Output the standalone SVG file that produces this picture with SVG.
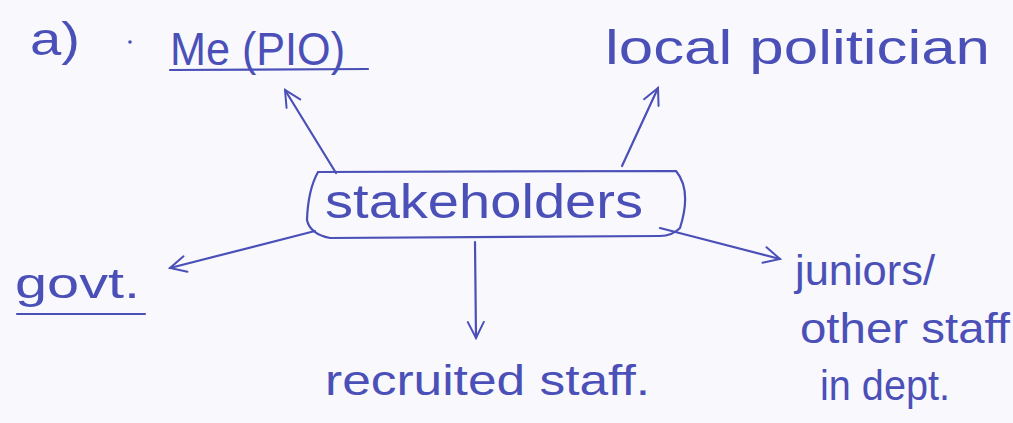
<svg xmlns="http://www.w3.org/2000/svg" width="1013" height="423" viewBox="0 0 1013 423">
<defs>
<marker id="arr" viewBox="0 0 20 20" refX="18" refY="10" markerWidth="20" markerHeight="20" markerUnits="userSpaceOnUse" orient="auto">
<path d="M2,2 L18,10 L2,18" fill="none" stroke="#4a50b8" stroke-width="2" stroke-linecap="round"/>
</marker>
<style>
.t{font-family:"Liberation Sans","DejaVu Sans",sans-serif;fill:#4a50b8;}
.ln{stroke:#4a50b8;stroke-width:2.2;fill:none;stroke-linecap:round;}
</style>
</defs>
<rect width="1013" height="423" fill="#f9f8fc"/>
<g id="label-a">
<text class="t" x="30" y="55" font-size="46" textLength="50" lengthAdjust="spacingAndGlyphs">a)</text>
<circle cx="130" cy="42" r="1.8" fill="#4a50b8"/>
</g>
<g id="node-me">
<text class="t" x="170" y="65" font-size="46" textLength="175" lengthAdjust="spacingAndGlyphs">Me (PIO)</text>
<path class="ln" d="M170,70 L368,69"/>
</g>
<g id="node-politician">
<text class="t" x="605" y="64" font-size="48" textLength="385" lengthAdjust="spacingAndGlyphs">local politician</text>
</g>
<g id="node-stakeholders">
<path class="ln" d="M318,172 L676,171 Q692,190 680,228 Q672,236 660,236 L330,238 Q310,234 307,220 Q308,190 318,172 Z"/>
<text class="t" x="325" y="218" font-size="48" textLength="318" lengthAdjust="spacingAndGlyphs">stakeholders</text>
</g>
<g id="node-govt">
<text class="t" x="15" y="298" font-size="42" textLength="125" lengthAdjust="spacingAndGlyphs">govt.</text>
<path class="ln" d="M17,314 L145,314"/>
</g>
<g id="node-recruited">
<text class="t" x="325" y="395" font-size="42" textLength="325" lengthAdjust="spacingAndGlyphs">recruited staff.</text>
</g>
<g id="node-juniors">
<text class="t" x="795" y="285" font-size="42" textLength="140" lengthAdjust="spacingAndGlyphs">juniors/</text>
<text class="t" x="800" y="343" font-size="42" textLength="210" lengthAdjust="spacingAndGlyphs">other staff</text>
<text class="t" x="820" y="400" font-size="42" textLength="130" lengthAdjust="spacingAndGlyphs">in dept.</text>
</g>
<g id="connectors">
<path class="ln" d="M336,173 L285,90" marker-end="url(#arr)"/>
<path class="ln" d="M622,166 L658,88" marker-end="url(#arr)"/>
<path class="ln" d="M315,231 L170,268" marker-end="url(#arr)"/>
<path class="ln" d="M475,242 L476,338" marker-end="url(#arr)"/>
<path class="ln" d="M660,228 L780,259" marker-end="url(#arr)"/>
</g>
</svg>
